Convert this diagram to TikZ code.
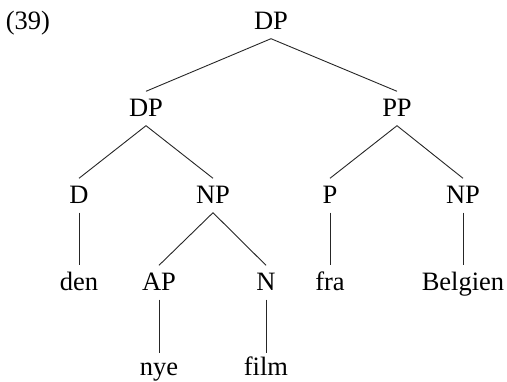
\documentclass[tikz,border=0pt]{standalone}
\usepackage{fontspec}
\setmainfont{Liberation Serif}
\begin{document}
\begin{tikzpicture}[x=1pt,y=-1pt,
  cat/.style={anchor=base,inner xsep=0pt,inner ysep=8.5pt,text height=17pt,text depth=0pt,
    font=\fontsize{26.5}{31}\selectfont},
  leaf/.style={cat,inner ysep=6pt},
  branch/.style={line width=0.9pt,draw=black!85}]
\useasboundingbox (0,0) rectangle (507,382);
% example number
\node[cat] (ex) at (28,30) {(39)};
% level 0
\node[cat] (dp0) at (271,30) {DP};
% level 1
\node[cat] (dp1) at (146,117) {DP};
\node[cat] (pp) at (397,117) {PP};
% level 2
\node[cat] (d) at (79,204) {D};
\node[cat] (np1) at (213,204) {NP};
\node[cat] (p) at (330,204) {P};
\node[cat] (np2) at (463,204) {NP};
% level 3
\node[cat] (den) at (79,291) {den};
\node[cat] (ap) at (159,291) {AP};
\node[cat] (n) at (266,291) {N};
\node[cat] (fra) at (330,291) {fra};
\node[cat] (belgien) at (463,291) {Belgien};
% level 4
\node[leaf] (nye) at (159,376) {nye};
\node[leaf] (film) at (266,376) {film};
% branches
\draw[branch] (dp1.north) -- (dp0.south) -- (pp.north);
\draw[branch] (d.north) -- (dp1.south) -- (np1.north);
\draw[branch] (p.north) -- (pp.south) -- (np2.north);
\draw[branch] (ap.north) -- (np1.south) -- (n.north);
\draw[branch] (d.south) -- (den.north);
\draw[branch] (p.south) -- (fra.north);
\draw[branch] (np2.south) -- (belgien.north);
\draw[branch] (ap.south) -- (nye.north);
\draw[branch] (n.south) -- (film.north);
\end{tikzpicture}
\end{document}
